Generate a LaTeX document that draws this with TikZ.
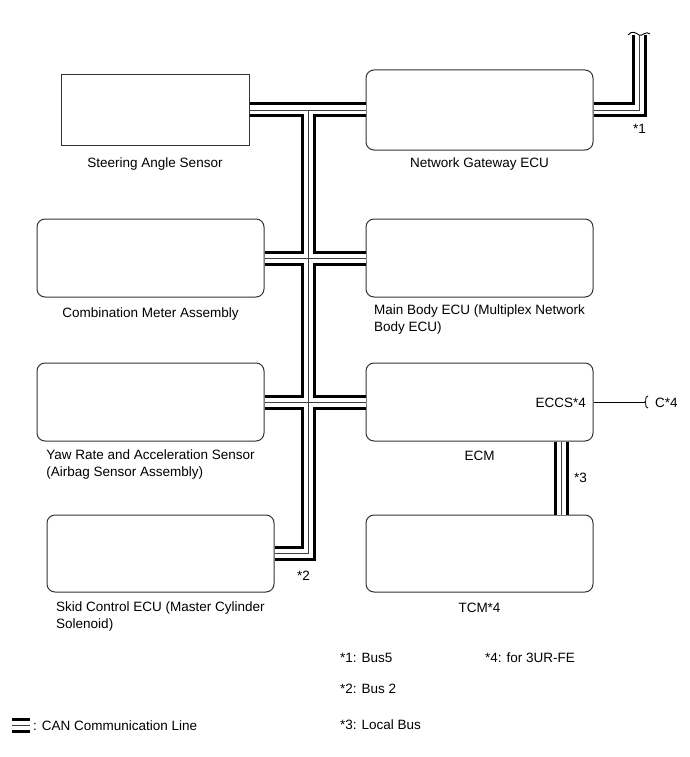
\documentclass[tikz,border=0pt]{standalone}
\usepackage{fontspec}
\setmainfont{Liberation Sans}

\begin{document}
\begin{tikzpicture}[x=1pt,y=-1pt,
  ecu/.style={draw=black!80,line width=1pt,rounded corners=8pt,minimum width=227pt,minimum height=78pt,inner sep=0},
  sensor/.style={ecu,sharp corners,minimum width=188pt,minimum height=70pt},
  lbl/.style={font=\fontsize{13.5}{17}\selectfont,inner sep=0,align=left},
  busout/.style={line width=15pt,line join=miter},
  busin/.style={white,line width=9pt,line join=miter},
  buswire/.style={black!75,line width=0.8pt},
  stub/.style={line width=0.9pt},
]
  \useasboundingbox (0,0) rectangle (690,757);

  % control units
  \node[sensor] (steer) at (155,110) {};
  \node[ecu,minimum height=80pt] (gateway) at (479.5,110) {};
  \node[ecu] (meter) at (150.5,258) {};
  \node[ecu] (mainbody) at (479.5,258) {};
  \node[ecu] (yaw) at (150.5,402) {};
  \node[ecu] (ecm) at (479.5,402) {};
  \node[ecu,minimum height=77pt] (skid) at (160.5,553.5) {};
  \node[ecu,minimum height=77pt] (tcm) at (479.5,553.5) {};

  \coordinate (jtop) at (308,110);
  \coordinate (jbot) at (308,553.5);
  \coordinate (gwturn) at (639,110);
  \coordinate (gwend) at (639,35);
  \coordinate (legA) at (12,725);
  \coordinate (legB) at (30,725);

  % CAN lines
  \foreach \busstyle in {busout,busin,buswire}{
    \draw[\busstyle] (steer.east) -- (gateway.west)
      (jtop) -- (jbot) -- (skid.east)
      (meter.east) -- (mainbody.west)
      (yaw.east) -- (ecm.west)
      (gateway.east) -- (gwturn) -- (gwend)
      ([xshift=82pt]ecm.south) -- ([xshift=82pt]tcm.north)
      (legA) -- (legB);
  }
  \draw[stub] (628,35) .. controls (632,30) and (636,33) .. (639,35)
    .. controls (642,37) and (646,30) .. (650,34);

  % labels
  \node[lbl,anchor=base] (steerlbl) at (155,167) {Steering Angle Sensor};
  \node[lbl,anchor=base] (gatewaylbl) at (479.5,167) {Network Gateway ECU};
  \node[lbl,anchor=base] (meterlbl) at (150.5,317) {Combination Meter Assembly};
  \node[lbl,anchor=north] (mainbodylbl) at (479.5,305) {Main Body ECU (Multiplex Network\\Body ECU)};
  \node[lbl,anchor=north] (yawlbl) at (150.5,450) {Yaw Rate and Acceleration Sensor\\(Airbag Sensor Assembly)};
  \node[lbl,anchor=base] (ecmlbl) at (479.5,460) {ECM};
  \node[lbl,anchor=north] (skidlbl) at (160.5,602) {Skid Control ECU (Master Cylinder\\Solenoid)};
  \node[lbl,anchor=base] (tcmlbl) at (479.5,612) {TCM*4};

  \node[lbl,anchor=base west] (n1) at (633,133) {*1};
  \node[lbl,anchor=base west] (n2) at (297,580) {*2};
  \node[lbl,anchor=base west] (n3) at (574,482) {*3};

  % ECCS branch
  \node[lbl,anchor=base east] (eccs) at (586,407) {ECCS*4};
  \coordinate (cend) at (645,402);
  \draw[stub] (ecm.east) -- (cend);
  \draw[stub] (648,396) .. controls (644,397) and (647,401) .. (cend)
    .. controls (647,403) and (644,407) .. (648,408);
  \node[lbl,anchor=base west] (ctext) at (655,407) {C*4};

  % notes
  \node[lbl,anchor=base west] (note1) at (340,662) {*1: Bus5};
  \node[lbl,anchor=base west] (note4) at (485,662) {*4: for 3UR-FE};
  \node[lbl,anchor=base west] (note2) at (340,693) {*2: Bus 2};
  \node[lbl,anchor=base west] (note3) at (340,729) {*3: Local Bus};
  \node[lbl,anchor=base west] (legtext) at (33,730) {: CAN Communication Line};
\end{tikzpicture}
\end{document}
